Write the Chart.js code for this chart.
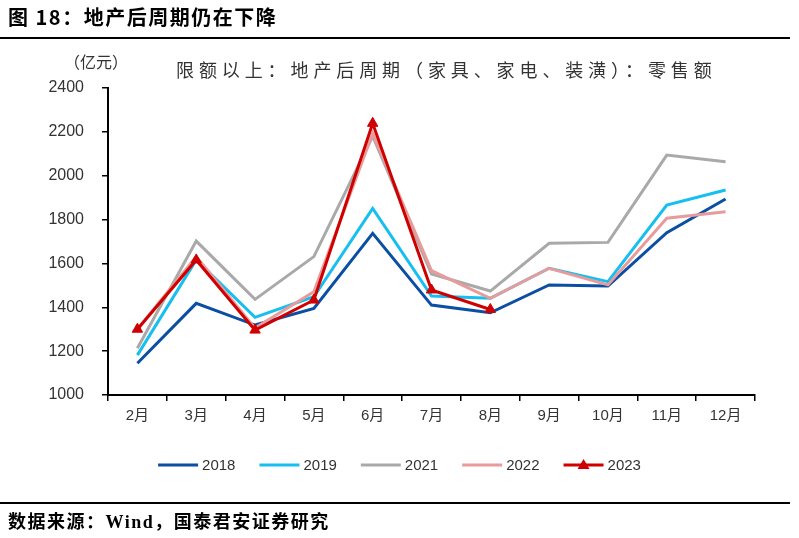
<!DOCTYPE html>
<html>
<head>
<meta charset="utf-8">
<script src="https://cdn.jsdelivr.net/npm/chart.js@4.4.1/dist/chart.umd.min.js"></script>
<style>
  body { margin: 0; background: #fff; }
  #wrap { position: relative; width: 799px; height: 538px; overflow: hidden; font-family: "Noto Sans CJK SC", sans-serif; }
  #chart { position: absolute; left: 0; top: 0; }
  .txt { position: absolute; white-space: nowrap; }
  #head { left: 8px; top: 3px; font-size: 20px; font-weight: bold; line-height: 28px; letter-spacing: 1.5px; color: #000; }
  #unit { left: 64px; top: 49px; font-size: 16px; line-height: 24px; color: #333; }
  #title { left: 176px; top: 55px; font-size: 18px; line-height: 28px; letter-spacing: 4.9px; color: #333; }
  #src { left: 8px; top: 507px; font-size: 18px; font-weight: bold; line-height: 26px; letter-spacing: 1.5px; color: #000; }
  .rule { position: absolute; left: 0; width: 790px; height: 2px; background: #000; }
</style>
</head>
<body>
<div id="wrap">
  <canvas id="chart" width="799" height="538"></canvas>
  <div class="txt" id="head">图 18：地产后周期仍在下降</div>
  <div class="rule" style="top:37px"></div>
  <div class="txt" id="unit">（亿元）</div>
  <div class="txt" id="title">限额以上：地产后周期（家具、家电、装潢）：零售额</div>
  <div class="rule" style="top:502px"></div>
  <div class="txt" id="src">数据来源：<span style="font-family:'Liberation Serif',serif">Wind</span>，国泰君安证券研究</div>
</div>
<script>
// months on the x axis
const months = ["2月", "3月", "4月", "5月", "6月", "7月", "8月", "9月", "10月", "11月", "12月"]
const yTicks = [1000, 1200, 1400, 1600, 1800, 2000, 2200, 2400]

// retail sales, 亿元
const s2018 = [1145, 1418, 1319, 1395, 1737, 1410, 1375, 1502, 1497, 1740, 1894]
const s2019 = [1182, 1616, 1354, 1448, 1851, 1451, 1441, 1578, 1517, 1866, 1935]
const s2021 = [1213, 1702, 1436, 1631, 2180, 1552, 1474, 1692, 1696, 2094, 2064]
const s2022 = [1300, 1631, 1305, 1471, 2193, 1567, 1441, 1578, 1502, 1806, 1836]
const s2023 = [1300, 1616, 1296, 1433, 2239, 1479, 1390]

const labelFont = "'Liberation Sans', 'Noto Sans CJK SC', sans-serif"

function line(label, data, color, order, extra) {
  return {
    label, data, order,
    borderColor: color, backgroundColor: color,
    borderWidth: 3, tension: 0,
    pointRadius: 0, pointHoverRadius: 0,
    ...extra,
  }
}

// legend drawn by hand so 2023 can show a line with a triangle on it
const legendPlugin = {
  id: "lineLegend",
  afterDraw(chart) {
    const ctx = chart.ctx
    const sets = chart.data.datasets
    const y = 465, lineW = 40, gap = 4, itemGap = 24
    ctx.save()
    ctx.font = "15px " + labelFont
    const widths = sets.map((ds) => lineW + gap + ctx.measureText(ds.label).width)
    const total = widths.reduce((a, b) => a + b, 0) + itemGap * (sets.length - 1)
    let x = (chart.width - total) / 2
    sets.forEach((ds, i) => {
      ctx.strokeStyle = ds.borderColor
      ctx.lineWidth = 3
      ctx.beginPath()
      ctx.moveTo(x, y)
      ctx.lineTo(x + lineW, y)
      ctx.stroke()
      if (ds.pointStyle === "triangle") {
        const cx = x + lineW / 2
        ctx.fillStyle = ds.borderColor
        ctx.beginPath()
        ctx.moveTo(cx, y - 6)
        ctx.lineTo(cx + 6, y + 4)
        ctx.lineTo(cx - 6, y + 4)
        ctx.closePath()
        ctx.fill()
      }
      ctx.fillStyle = "#333"
      ctx.textBaseline = "middle"
      ctx.fillText(ds.label, x + lineW + gap, y + 1)
      x += widths[i] + itemGap
    })
    ctx.restore()
  },
}

new Chart(document.getElementById("chart"), {
  type: "line",
  data: {
    labels: months,
    datasets: [
      line("2018", s2018, "#0A4FA3", 4),
      line("2019", s2019, "#16BFF0", 3),
      line("2021", s2021, "#A9A9A9", 2),
      line("2022", s2022, "#E89B9B", 1),
      line("2023", s2023, "#D00000", 0, {
        pointStyle: "triangle", pointRadius: 6, pointBorderWidth: 1,
      }),
    ],
  },
  options: {
    responsive: false,
    animation: false,
    events: [],
    layout: { padding: { left: 0, right: 44, top: 88, bottom: 0 } },
    plugins: { legend: { display: false }, tooltip: { enabled: false } },
    scales: {
      x: {
        offset: true,
        grid: { offset: true, drawOnChartArea: false, drawTicks: true, tickLength: 6, color: "#000", lineWidth: 1.5 },
        border: { display: true, color: "#000", width: 2 },
        ticks: { color: "#333", font: { size: 15, family: labelFont }, padding: 6, maxRotation: 0 },
        afterFit: (s) => { s.height = 143 },
      },
      y: {
        min: 1000, max: 2400,
        afterBuildTicks: (s) => { s.ticks = yTicks.map((v) => ({ value: v })) },
        grid: { drawOnChartArea: false, drawTicks: true, tickLength: 6, color: "#000", lineWidth: 1.5 },
        border: { display: true, color: "#000", width: 2 },
        ticks: { color: "#333", font: { size: 16, family: labelFont }, padding: 18, callback: (v) => String(v) },
        afterFit: (s) => { s.width = 108 },
      },
    },
  },
  plugins: [legendPlugin],
})
</script>
</body>
</html>
